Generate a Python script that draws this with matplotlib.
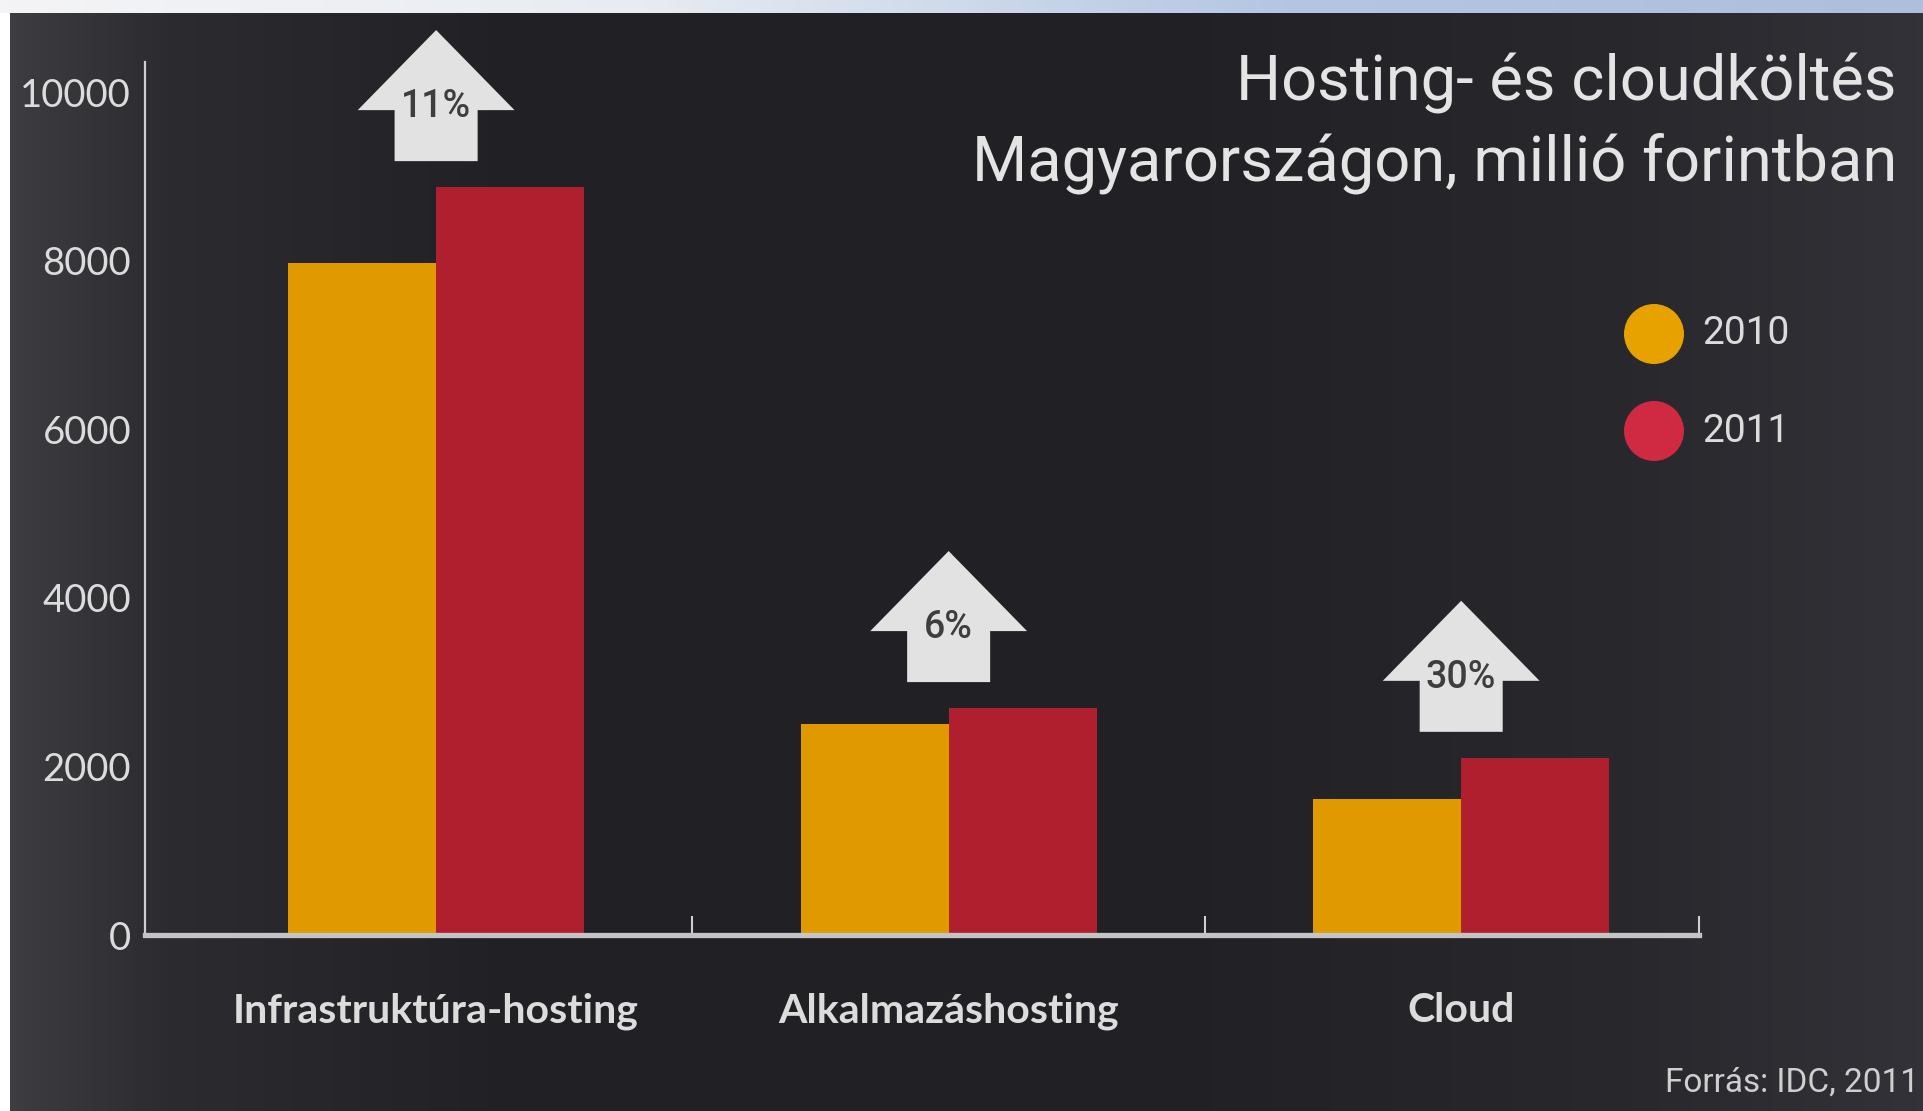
import numpy as np
import matplotlib
matplotlib.use('Agg')
import matplotlib.pyplot as plt
from matplotlib.patches import Polygon, Circle
from matplotlib.colors import LinearSegmentedColormap

# data (millió forint)
categories = ['Infrastruktúra-hosting', 'Alkalmazáshosting', 'Cloud']
years = ['2010', '2011']
spend_2010 = [7970, 2500, 1610]
spend_2011 = [8870, 2690, 2100]
growth_labels = ['11%', '6%', '30%']
yticks = [0, 2000, 4000, 6000, 8000, 10000]

title_lines = ['Hosting- és cloudköltés', 'Magyarországon, millió forintban']
source = 'Forrás: IDC, 2011'

c2010 = '#e09a00'
c2011 = '#b01f2e'
leg2010 = '#e8a200'
leg2011 = '#cf2a42'
light = '#dcdcdc'
narrow = ['Liberation Sans Narrow', 'Roboto', 'DejaVu Sans']

W, H = 1923, 1111
fig = plt.figure(figsize=(W / 100, H / 100), dpi=100)
fig.patch.set_facecolor('white')

# screenshot strip at the top
strip = fig.add_axes([0, 1 - 13 / H, 1, 13 / H])
strip_cmap = LinearSegmentedColormap.from_list('strip', ['#f4f4f6', '#e8ecf2', '#b4c6e2', '#aebfdd'])
strip.imshow(np.linspace(0, 1, 256)[None, :], aspect='auto', cmap=strip_cmap, extent=[0, 1, 0, 1])
strip.axis('off')

# dark panel with soft horizontal shading
bg = fig.add_axes([10 / W, 0, 1 - 10 / W, 1 - 13 / H])
bg_cmap = LinearSegmentedColormap.from_list(
    'bg', [(0, '#3d3c41'), (0.08, '#2c2b30'), (0.25, '#222126'), (0.6, '#212025'), (0.85, '#29282d'), (1, '#333238')])
grad = np.tile(np.linspace(0, 1, 512), (64, 1))
bg.imshow(grad, aspect='auto', cmap=bg_cmap, extent=[0, 1, 0, 1])
bg.axis('off')

ax = fig.add_axes([145 / W, 1 - 935 / H, (1699 - 145) / W, (935 - 62) / H])
ax.set_facecolor('none')

x = np.arange(len(categories))
bw = 0.289
ax.bar(x - bw / 2, spend_2010, width=bw, color=c2010, zorder=2)
ax.bar(x + bw / 2, spend_2011, width=bw, color=c2011, zorder=2)

ax.set_xlim(-0.568, 2.464)
ax.set_ylim(0, 10356)

for s in ['top', 'right']:
    ax.spines[s].set_visible(False)
ax.spines['left'].set_color('#cfcfcf')
ax.spines['left'].set_linewidth(1.6)
ax.spines['bottom'].set_color('#c4c4c6')
ax.spines['bottom'].set_linewidth(3.8)
ax.spines['bottom'].set_zorder(3)

ax.set_yticks(yticks)
ax.set_yticklabels([str(v) for v in yticks], fontsize=27.5, color=light, family=['Lato', 'DejaVu Sans'])
ax.tick_params(axis='y', length=0, pad=10)

ax.set_xticks([0.5, 1.5, 2.464])
ax.set_xticklabels([])
ax.tick_params(axis='x', direction='in', length=14, width=1.5, color='#cfcfcf')

for xi, name in zip(x, categories):
    ax.text(xi, -900, name, ha='center', va='center', fontsize=29.5, fontweight='bold',
            color=light, family=['Lato', 'DejaVu Sans'])

# growth arrows above each group
gap, shaft_h, head_h = 310, 605, 950
shaft_w, head_w = 0.081, 0.153
for xi, top, lab in zip(x, spend_2011, growth_labels):
    b = top + gap
    verts = [(xi - shaft_w, b), (xi + shaft_w, b), (xi + shaft_w, b + shaft_h),
             (xi + head_w, b + shaft_h), (xi, b + shaft_h + head_h),
             (xi - head_w, b + shaft_h), (xi - shaft_w, b + shaft_h)]
    ax.add_patch(Polygon(verts, closed=True, facecolor='#e2e2e2', edgecolor='none',
                         zorder=3, clip_on=False))
    ax.text(xi, b + shaft_h + 40, lab, ha='center', va='center', fontsize=27, fontweight='medium',
            color='#3e3e3e', family=narrow, zorder=4)

# title, right aligned
for yy, line in zip([83, 163], title_lines):
    fig.text(1897 / W, 1 - yy / H, line, ha='right', va='center', fontsize=45.5, color='#e4e4e4',
             family=narrow)

# legend as circles
for yy, col, yr in [(334, leg2010, years[0]), (431, leg2011, years[1])]:
    fig.patches.append(Circle((1654 / 100, (H - yy) / 100), 0.30, transform=fig.dpi_scale_trans,
                              facecolor=col, edgecolor='none'))
    fig.text(1702 / W, 1 - yy / H, yr, ha='left', va='center', fontsize=28, color=light, family=narrow)

fig.text(1919 / W, 1 - 1083 / H, source, ha='right', va='center', fontsize=24, color='#cfcfcf', family=narrow)

fig.savefig('out.png', dpi=100, facecolor=fig.get_facecolor())
